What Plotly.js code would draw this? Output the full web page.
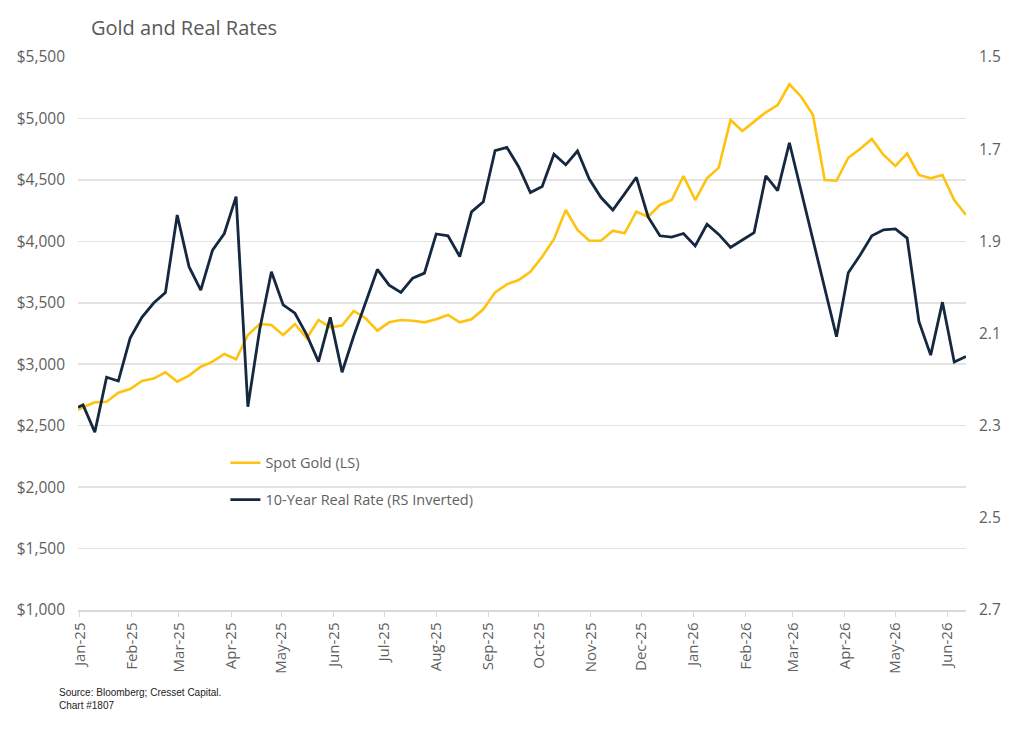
<!DOCTYPE html>
<html>
<head>
<meta charset="utf-8">
<script src="https://cdn.plot.ly/plotly-3.0.1.min.js"></script>
<style>
  html, body { margin: 0; padding: 0; background: #ffffff; }
  #chart { width: 1024px; height: 744px; }
</style>
</head>
<body>
<div id="chart"></div>
<script>
// Weekly observation dates
const dates = [
  "2024-12-31","2025-01-03","2025-01-10","2025-01-17","2025-01-24","2025-01-31",
  "2025-02-07","2025-02-14","2025-02-21","2025-02-28","2025-03-07","2025-03-14",
  "2025-03-21","2025-03-28","2025-04-04","2025-04-11","2025-04-18","2025-04-25",
  "2025-05-02","2025-05-09","2025-05-16","2025-05-23","2025-05-30","2025-06-06",
  "2025-06-13","2025-06-20","2025-06-27","2025-07-04","2025-07-11","2025-07-18",
  "2025-07-25","2025-08-01","2025-08-08","2025-08-15","2025-08-22","2025-08-29",
  "2025-09-05","2025-09-12","2025-09-19","2025-09-26","2025-10-03","2025-10-10",
  "2025-10-17","2025-10-24","2025-10-31","2025-11-07","2025-11-14","2025-11-21",
  "2025-11-28","2025-12-05","2025-12-12","2025-12-19","2025-12-26","2026-01-02",
  "2026-01-09","2026-01-16","2026-01-23","2026-01-30","2026-02-06","2026-02-13",
  "2026-02-20","2026-02-27","2026-03-06","2026-03-13","2026-03-20","2026-03-27",
  "2026-04-03","2026-04-10","2026-04-17","2026-04-24","2026-05-01","2026-05-08",
  "2026-05-15","2026-05-22","2026-05-29","2026-06-05","2026-06-12"
];

// Spot gold, USD/oz (left scale)
const spotGold = [
  2628, 2650, 2690, 2695, 2768, 2798, 2864, 2883, 2934, 2858, 2907, 2980,
  3021, 3083, 3040, 3238, 3327, 3319, 3238, 3327, 3211, 3360, 3300, 3314,
  3433, 3374, 3273, 3341, 3360, 3354, 3341, 3366, 3401, 3341, 3366, 3447,
  3585, 3650, 3685, 3753, 3875, 4017, 4255, 4092, 4005, 4005, 4087, 4065,
  4241, 4201, 4296, 4336, 4532, 4336, 4513, 4600, 4987, 4898, 4974, 5050,
  5109, 5278, 5177, 5028, 4499, 4493, 4680, 4751, 4833, 4703, 4613, 4716,
  4540, 4513, 4540, 4336, 4214
];

// 10-year real rate, % (right scale, inverted)
const realRate = [
  2.260, 2.255, 2.314, 2.195, 2.203, 2.110, 2.065, 2.034, 2.011, 1.843, 1.955, 2.006,
  1.919, 1.883, 1.803, 2.259, 2.092, 1.966, 2.038, 2.056, 2.103, 2.161, 2.065, 2.184,
  2.105, 2.034, 1.961, 1.995, 2.011, 1.980, 1.969, 1.884, 1.888, 1.933, 1.836, 1.814,
  1.703, 1.696, 1.738, 1.794, 1.781, 1.711, 1.734, 1.704, 1.765, 1.805, 1.832, 1.797,
  1.761, 1.847, 1.888, 1.891, 1.883, 1.910, 1.863, 1.885, 1.913, 1.897, 1.881, 1.758,
  1.790, 1.686, 1.792, 1.898, 2.007, 2.107, 1.968, 1.930, 1.888, 1.875, 1.873, 1.893,
  2.074, 2.147, 2.032, 2.162, 2.150
];

const goldTicks = [1000, 1500, 2000, 2500, 3000, 3500, 4000, 4500, 5000, 5500];
const goldTickLabels = ["$1,000", "$1,500", "$2,000", "$2,500", "$3,000", "$3,500", "$4,000", "$4,500", "$5,000", "$5,500"];
const rateTicks = [1.5, 1.7, 1.9, 2.1, 2.3, 2.5, 2.7];
const rateTickLabels = ["1.5", "1.7", "1.9", "2.1", "2.3", "2.5", "2.7"];

const GOLD = "#FFC20E";
const NAVY = "#15283F";
const GREY = "#5f5f5f";
const FONT = "Open Sans, Lato, sans-serif";

const traces = [
  {
    x: dates, y: spotGold, type: "scatter", mode: "lines",
    name: "Spot Gold (LS)", legendgroup: "g1",
    line: { color: GOLD, width: 2.6 }, yaxis: "y"
  },
  {
    x: dates, y: realRate, type: "scatter", mode: "lines",
    name: "10-Year Real Rate (RS Inverted)", legendgroup: "g2",
    line: { color: NAVY, width: 2.8 }, yaxis: "y2"
  }
];

const layout = {
  width: 1024, height: 744,
  paper_bgcolor: "#ffffff", plot_bgcolor: "#ffffff",
  margin: { l: 78, r: 58, t: 57, b: 134 },
  font: { family: FONT, color: GREY, size: 14 },
  title: {
    text: "Gold and Real Rates",
    font: { family: FONT, size: 20, color: "#595959" },
    x: 91 / 1024, xanchor: "left", xref: "container",
    y: 1 - 28 / 744, yanchor: "middle", yref: "container"
  },
  showlegend: true,
  legend: {
    x: 0.166, y: 0.295, xanchor: "left", yanchor: "top",
    bgcolor: "rgba(0,0,0,0)", borderwidth: 0,
    traceorder: "grouped", tracegroupgap: 15,
    font: { family: FONT, size: 14.5, color: GREY }
  },
  xaxis: {
    type: "date",
    range: ["2024-12-31", "2026-06-12"],
    tick0: "2025-01-01", dtick: "M1",
    tickformat: "%b-%y", tickangle: -90,
    ticks: "outside", ticklen: 5, tickcolor: "#d9d9d9",
    showline: true, linecolor: "#d9d9d9", linewidth: 1.5,
    showgrid: false, zeroline: false,
    tickfont: { family: FONT, size: 15, color: GREY }
  },
  yaxis: {
    range: [1000, 5500],
    tickvals: goldTicks, ticktext: goldTickLabels,
    showgrid: true, gridcolor: "#e3e3e3", gridwidth: 1.5,
    zeroline: false, showline: false, ticks: "",
    ticklabelstandoff: 12,
    tickfont: { family: FONT, size: 15.5, color: GREY }
  },
  yaxis2: {
    overlaying: "y", side: "right",
    range: [2.7, 1.5],
    tickvals: rateTicks, ticktext: rateTickLabels,
    showgrid: false, zeroline: false, showline: false, ticks: "",
    ticklabelstandoff: 12,
    tickfont: { family: FONT, size: 15.5, color: GREY }
  },
  annotations: [
    {
      text: "Source: Bloomberg; Cresset Capital.<br>Chart #1807",
      xref: "paper", yref: "paper", x: -21 / 888, y: -75 / 553,
      xanchor: "left", yanchor: "top", align: "left", showarrow: false,
      font: { family: "Liberation Sans Narrow, Arial Narrow, sans-serif", size: 10, color: "#222222" }
    }
  ]
};

Plotly.newPlot("chart", traces, layout, { displayModeBar: false, staticPlot: true });
</script>
</body>
</html>
